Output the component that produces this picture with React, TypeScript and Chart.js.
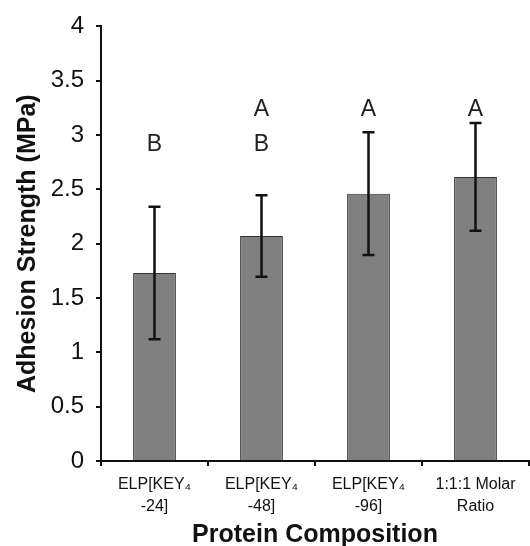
import React, { useEffect, useRef } from "react";
import { Chart, registerables } from "chart.js";

Chart.register(...registerables);

const categories: string[][] = [
  ["ELP[KEY₄", "-24]"],
  ["ELP[KEY₄", "-48]"],
  ["ELP[KEY₄", "-96]"],
  ["1:1:1 Molar", "Ratio"],
];
const strengthValues = [1.73, 2.07, 2.46, 2.615];
const strengthErrors = [0.61, 0.375, 0.565, 0.495];
const upperLetters = ["", "A", "A", "A"];
const lowerLetters = ["B", "B", "", ""];
const upperLetterLevel = 3.23;
const lowerLetterLevel = 2.91;
const yTicks = [0, 0.5, 1, 1.5, 2, 2.5, 3, 3.5, 4];

const FONT = "'Liberation Sans', Arial, sans-serif";

const annotationsPlugin = {
  id: "errorBarsAndLetters",
  afterDatasetsDraw(chart: any) {
    const ctx = chart.ctx;
    const meta = chart.getDatasetMeta(0);
    const y = chart.scales.y;
    ctx.save();
    ctx.strokeStyle = "#111";
    ctx.lineWidth = 2.5;
    meta.data.forEach((bar: any, i: number) => {
      const x = bar.x;
      const top = y.getPixelForValue(strengthValues[i] + strengthErrors[i]);
      const bot = y.getPixelForValue(strengthValues[i] - strengthErrors[i]);
      ctx.beginPath();
      ctx.moveTo(x, top);
      ctx.lineTo(x, bot);
      ctx.moveTo(x - 6, top);
      ctx.lineTo(x + 6, top);
      ctx.moveTo(x - 6, bot);
      ctx.lineTo(x + 6, bot);
      ctx.stroke();
    });
    ctx.fillStyle = "#222";
    ctx.font = `23px ${FONT}`;
    ctx.textAlign = "center";
    ctx.textBaseline = "middle";
    meta.data.forEach((bar: any, i: number) => {
      if (upperLetters[i]) ctx.fillText(upperLetters[i], bar.x, y.getPixelForValue(upperLetterLevel));
      if (lowerLetters[i]) ctx.fillText(lowerLetters[i], bar.x, y.getPixelForValue(lowerLetterLevel));
    });
    ctx.restore();
  },
};

export default function App() {
  const canvasRef = useRef<HTMLCanvasElement | null>(null);

  useEffect(() => {
    document.body.style.margin = "0";
    const canvas = canvasRef.current;
    if (!canvas) return;
    const chart = new Chart(canvas, {
      type: "bar",
      data: {
        labels: categories,
        datasets: [
          {
            data: strengthValues,
            backgroundColor: "#808080",
            borderColor: "#333",
            borderWidth: 1,
            categoryPercentage: 0.4,
            barPercentage: 1,
          },
        ],
      },
      options: {
        animation: false,
        responsive: false,
        maintainAspectRatio: false,
        layout: { padding: { top: 24, right: 1, left: 0, bottom: 0 } },
        plugins: {
          legend: { display: false },
          tooltip: { enabled: false },
        },
        scales: {
          x: {
            grid: {
              display: true,
              offset: true,
              drawOnChartArea: false,
              drawTicks: true,
              tickLength: 5,
              color: "#111",
              lineWidth: 2,
            },
            border: { display: true, color: "#111", width: 2 },
            ticks: {
              color: "#111",
              font: { family: FONT, size: 16, lineHeight: 1.35 },
              padding: 8,
              maxRotation: 0,
              autoSkip: false,
            },
            title: {
              display: true,
              text: "Protein Composition",
              color: "#111",
              font: { family: FONT, size: 25, weight: "bold", lineHeight: 0.86 },
              padding: { top: 0, bottom: 0 },
            },
            afterFit(scale: any) {
              scale.height = 85;
            },
          },
          y: {
            min: 0,
            max: 4,
            afterBuildTicks(scale: any) {
              scale.ticks = yTicks.map((v) => ({ value: v }));
            },
            grid: {
              display: true,
              drawOnChartArea: false,
              drawTicks: true,
              tickLength: 5,
              color: "#111",
              lineWidth: 2,
            },
            border: { display: true, color: "#111", width: 2 },
            ticks: {
              color: "#111",
              font: { family: FONT, size: 24 },
              padding: 12,
              callback: (value: any) => String(value),
            },
            title: {
              display: true,
              text: "Adhesion Strength (MPa)",
              color: "#111",
              font: { family: FONT, size: 25, weight: "bold" },
              padding: { top: 13.5, bottom: 0 },
            },
            afterFit(scale: any) {
              scale.width = 101;
            },
          },
        },
      },
      plugins: [annotationsPlugin],
    });
    return () => chart.destroy();
  }, []);

  return (
    <div style={{ width: 530, height: 546 }}>
      <canvas ref={canvasRef} width={530} height={546} style={{ display: "block" }} />
    </div>
  );
}
